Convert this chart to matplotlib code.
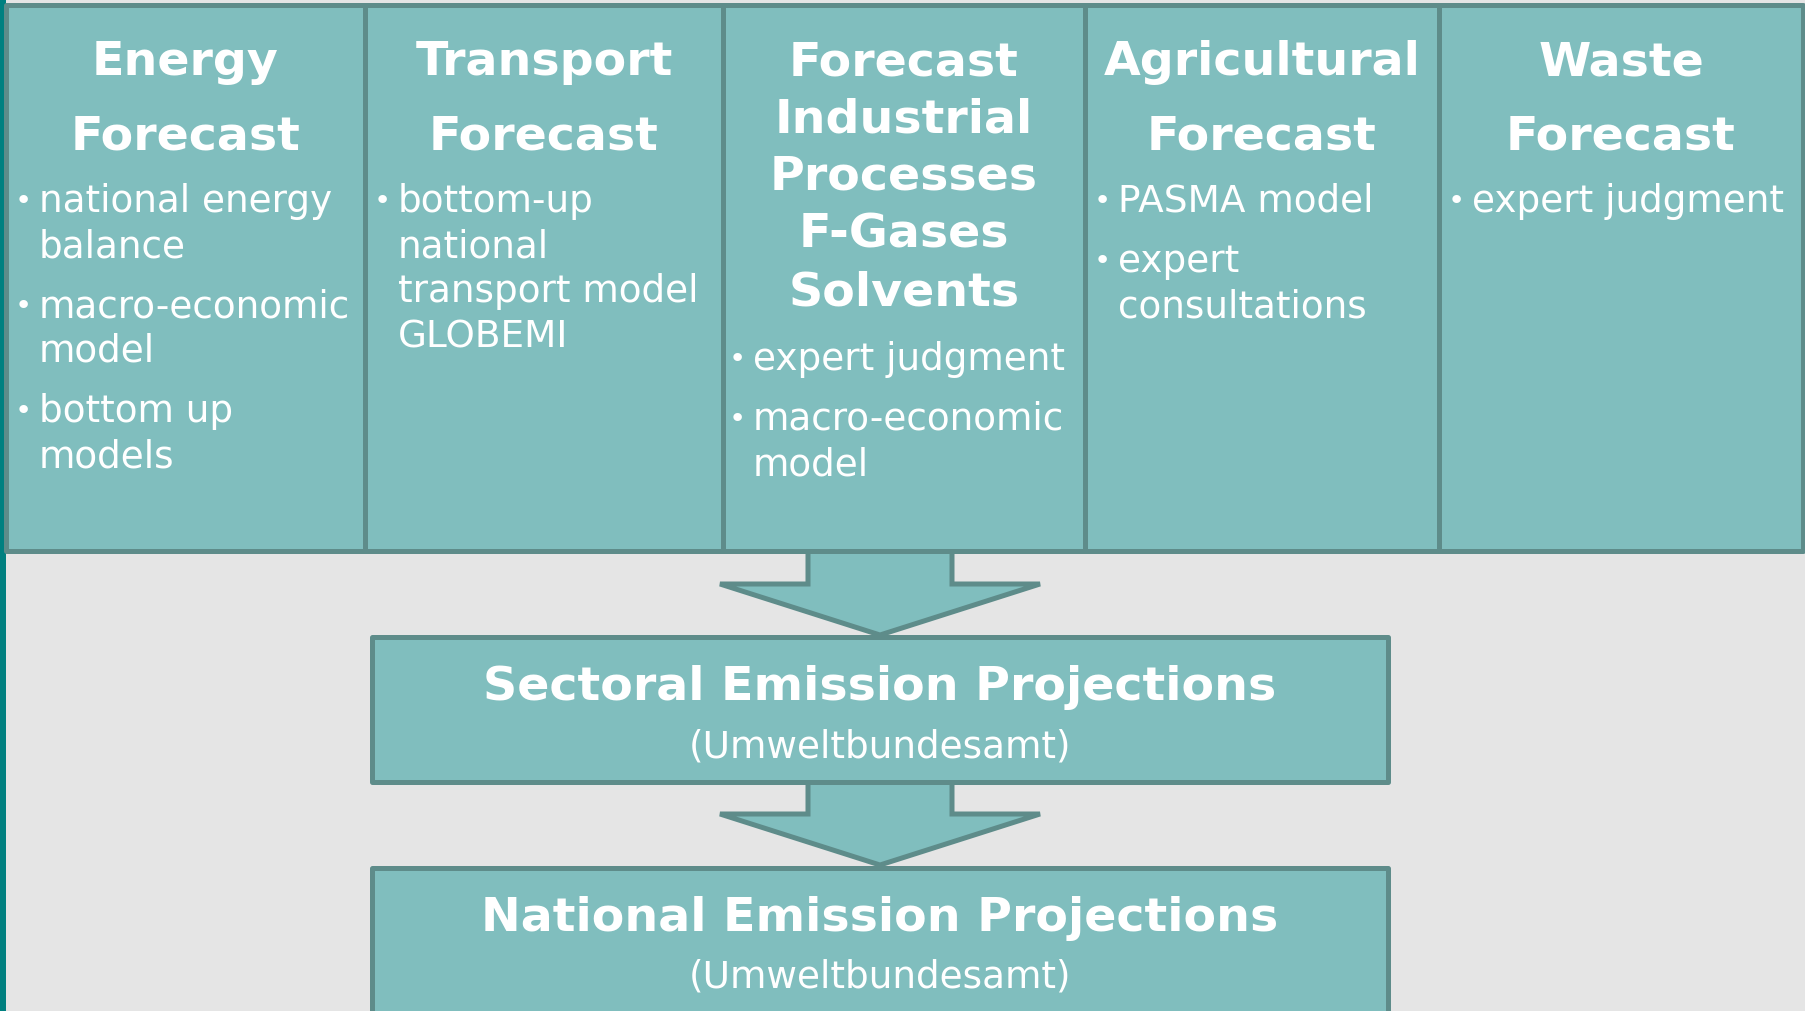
import matplotlib.pyplot as plt
from matplotlib.patches import Rectangle, Polygon

# diagram content
titles = [["Energy", "Forecast"],
          ["Transport", "Forecast"],
          ["Forecast", "Industrial", "Processes", "F-Gases", "Solvents"],
          ["Agricultural", "Forecast"],
          ["Waste", "Forecast"]]
bullets = [[["national energy", "balance"], ["macro-economic", "model"], ["bottom up", "models"]],
           [["bottom-up", "national", "transport model", "GLOBEMI"]],
           [["expert judgment"], ["macro-economic", "model"]],
           [["PASMA model"], ["expert", "consultations"]],
           [["expert judgment"]]]
col_edges = [6, 365, 723, 1085, 1439, 1803]
stages = [("Sectoral Emission Projections", "(Umweltbundesamt)"),
          ("National Emission Projections", "(Umweltbundesamt)")]

fill = '#80bebe'
edge = '#5e8c8a'
bg = '#e5e5e5'

fig = plt.figure(figsize=(18.06, 10.11), dpi=100)
fig.patch.set_facecolor(bg)
ax = fig.add_axes([0, 0, 1, 1])
ax.set_xlim(0, 1806)
ax.set_ylim(1011, 0)
ax.axis('off')

ax.add_patch(Rectangle((0, 0), 6, 1011, color='#008080', lw=0, zorder=0))

top, bottom = 5, 551
for i in range(5):
    x0, x1 = col_edges[i], col_edges[i + 1]
    ax.add_patch(Rectangle((x0, top), x1 - x0, bottom - top, facecolor=fill,
                           edgecolor=edge, lw=3.6, joinstyle='round', zorder=2))
    xc = (x0 + x1) / 2
    n = len(titles[i])
    step = 75 if n <= 2 else 57.5
    y = 75
    for line in titles[i]:
        ax.text(xc, y, line, ha='center', va='baseline', color='white',
                fontsize=34.2, fontweight='bold', zorder=5)
        y += step
    y = 212 if n <= 2 else 370
    tx = x0 + (30 if i == 2 else 33)
    for item in bullets[i]:
        ax.text(tx - 16, y - 3, '\u2022', ha='center', va='baseline', color='white',
                fontsize=21, zorder=5)
        for line in item:
            ax.text(tx, y, line, ha='left', va='baseline', color='white',
                    fontsize=26.9, zorder=5)
            y += 45
        y += 15

# arrows and lower boxes
box_x0, box_x1 = 372, 1388
box_tops = [637, 868]
arrow_tops = [551, 781]
for k, (head, sub) in enumerate(stages):
    t = arrow_tops[k]
    xc = 880
    arrow = Polygon([(808, t), (952, t), (952, t + 33), (1040, t + 33), (xc, t + 84),
                     (720, t + 33), (808, t + 33)], closed=True, facecolor=fill,
                    edgecolor=edge, lw=3.6, joinstyle='miter', zorder=1)
    ax.add_patch(arrow)
    bt = box_tops[k]
    ax.add_patch(Rectangle((box_x0, bt), box_x1 - box_x0, 145 if k == 0 else 300,
                           facecolor=fill, edgecolor=edge, lw=3.6, joinstyle='round',
                           zorder=3))
    bxc = (box_x0 + box_x1) / 2
    ax.text(bxc, bt + 63, head, ha='center', va='baseline', color='white',
            fontsize=34.2, fontweight='bold', zorder=5)
    ax.text(bxc, bt + 120, sub, ha='center', va='baseline', color='white',
            fontsize=26.9, zorder=5)

fig.savefig('out.png', dpi=100, facecolor=bg)
